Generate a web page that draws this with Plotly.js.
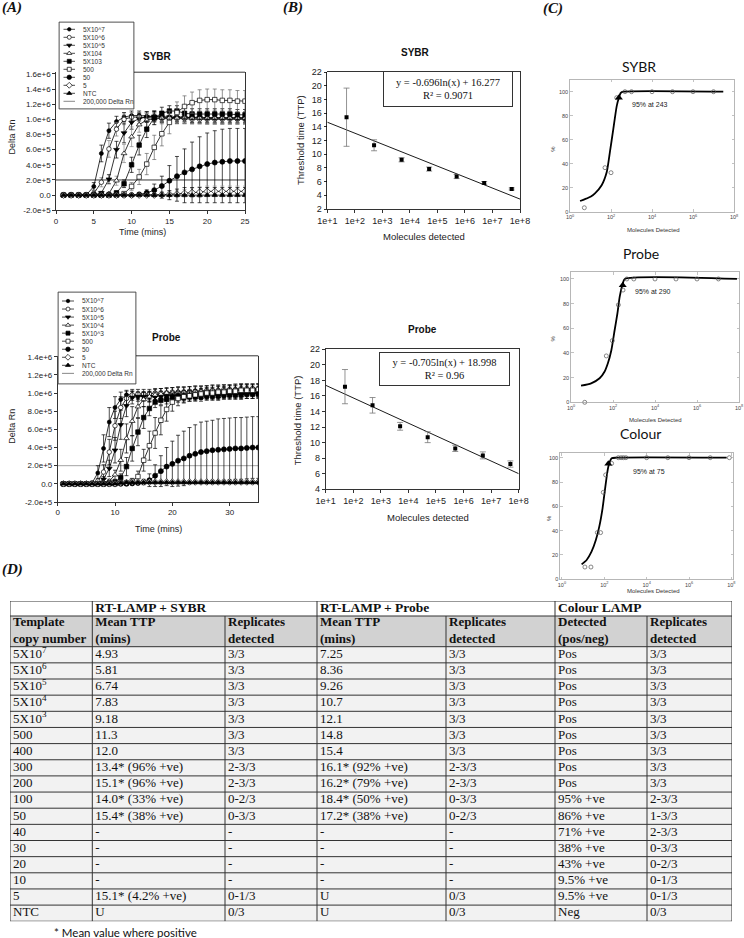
<!DOCTYPE html>
<html><head><meta charset="utf-8">
<script src="https://cdn.plot.ly/plotly-3.0.1.min.js"></script>
<style>html,body{margin:0;padding:0;background:#fff;}#chart{width:744px;height:938px;}</style>
</head><body><div id="chart"></div>
<script>
// ================= DATA =================
// Panel A – SYBR (Delta Rn in units of 1e5)
const sybrTime = [1,2,3,4,5,6,7,8,9,10,11,12,13,14,15,16,17,18,19,20,21,22,23,24,25];
const sybr5e7 = [0,0,0,0,1.15,5.5,8.5,9.7,10.3,10.5,10.5,10.4,10.4,10.3,10.3,10.3,10.3,10.2,10.2,10.2,10.2,10.2,10.2,10.2,10.2];
const sybr5e6 = [0,0,0,0,0.2,1.7,6.1,8.7,10.0,10.3,10.3,10.2,10.2,10.1,10.1,10.1,10.1,10.0,10.0,10.0,10.0,10.0,10.0,10.0,10.0];
const sybr5e5 = [0,0,0,0,0,0.3,2.1,6.0,8.2,9.6,10.1,10.3,10.4,10.3,10.3,10.2,10.2,10.2,10.2,10.1,10.1,10.1,10.1,10.1,10.1];
const sybr5e4 = [0,0,0,0,0,0,0.2,1.9,5.5,7.7,9.3,9.9,10.1,10.2,10.2,10.2,10.2,10.2,10.2,10.2,10.2,10.2,10.2,10.2,10.2];
const sybr5e3 = [0,0,0,0,0,0,0,0.3,1.5,4.0,6.6,8.7,10.2,10.8,11.1,11.1,10.8,10.7,10.7,10.7,10.7,10.7,10.7,10.6,10.6];
const sybr500 = [0,0,0,0,0,0,0,0,0.2,1.15,2.4,4.1,6.3,8.1,9.6,10.9,11.7,12.2,12.5,12.6,12.6,12.5,12.5,12.4,12.4];
const sybr50  = [0,0,0,0,0,0,0,0,0,0,0.1,0.3,0.66,1.2,1.9,2.5,3.0,3.4,3.8,4.1,4.3,4.4,4.5,4.5,4.5];
const sybr5   = [0,0,0,0,0,0,0,0,0,0,0,0,0,0.05,0.1,0.15,0.25,0.35,0.4,0.5,0.5,0.5,0.5,0.5,0.5];
const sybrNTC = [0,0,0,0,0,0,0,0,0,0,0,0,0,0,0,0,0,0,0,0,0,0,0,0,0];
const sybrErr5e7 = [0,0,0,0.2,0.5,1.1,1.0,0.7,0.6,0.6,0.6,0.6,0.6,0.6,0.6,0.6,0.6,0.6,0.6,0.6,0.6,0.6,0.6,0.6,0.6];
const sybrErr5e6 = [0,0,0,0,0.3,0.6,1.1,0.9,0.7,0.6,0.6,0.6,0.6,0.6,0.6,0.6,0.6,0.6,0.6,0.6,0.6,0.6,0.6,0.6,0.6];
const sybrErr5e5 = [0,0,0,0,0,0.2,0.6,1.1,1.3,0.9,0.7,0.7,0.7,0.7,0.7,0.7,0.7,0.7,0.7,0.7,0.7,0.7,0.7,0.7,0.7];
const sybrErr5e4 = [0,0,0,0,0,0,0.2,0.6,1.2,1.3,1.0,0.9,0.8,0.8,0.8,0.8,0.8,0.8,0.8,0.8,0.8,0.8,0.8,0.8,0.8];
const sybrErr5e3 = [0,0,0,0,0,0,0,0.2,0.5,1.0,1.3,1.1,0.9,0.8,0.7,0.7,0.7,0.7,0.7,0.7,0.7,0.7,0.7,0.7,0.7];
const sybrErr500 = [0,0,0,0,0,0,0,0,0.2,0.5,1.0,1.4,1.6,1.6,1.5,1.4,1.4,1.4,1.4,1.4,1.4,1.4,1.4,1.4,1.4];
const sybrErr50  = [0,0,0,0,0,0,0,0,0,0,0.2,0.4,0.8,1.3,2.0,2.6,3.1,3.6,3.9,4.1,4.2,4.3,4.3,4.3,4.3];
const sybrErr5   = [0,0,0,0,0,0,0,0,0,0,0,0,0.1,0.2,0.3,0.4,0.5,0.6,0.7,0.7,0.7,0.7,0.7,0.7,0.7];
const sybrErrNTC = [0,0,0,0,0,0,0,0,0,0,0,0,0.2,0.4,0.6,0.8,1.0,1.0,1.0,1.0,1.0,1.0,1.0,1.0,1.0];
const sybrThreshX = [0, 25];
const sybrThreshY = [2, 2];

// Panel A – Probe (Delta Rn in units of 1e5)
const probeTime = [1,2,3,4,5,6,7,8,9,10,11,12,13,14,15,16,17,18,19,20,21,22,23,24,25,26,27,28,29,30,31,32,33,34,35];
const probe5e7 = [0,0,0,0,0,0.1,1.2,3.9,6.8,8.4,9.3,9.8,9.8,9.7,9.7,9.7,9.7,9.7,9.7,9.7,9.7,9.7,9.8,9.8,9.8,9.8,9.8,9.8,9.9,9.9,9.9,9.9,10.0,10.0,10.0];
const probe5e6 = [0,0,0,0,0,0,0.3,1.3,3.5,6.4,8.4,9.4,9.8,9.9,9.9,9.9,10.0,10.0,10.0,10.1,10.1,10.1,10.2,10.2,10.2,10.3,10.3,10.3,10.4,10.4,10.4,10.5,10.5,10.5,10.5];
const probe5e5 = [0,0,0,0,0,0,0.05,0.5,1.7,3.7,6.5,8.6,9.5,9.6,9.6,9.6,9.6,9.7,9.7,9.7,9.7,9.7,9.8,9.8,9.8,9.8,9.8,9.8,9.9,9.9,9.9,9.9,9.9,9.9,10.0];
const probe5e4 = [0,0,0,0,0,0,0,0.1,0.3,1.0,2.6,5.0,6.9,8.5,9.3,9.6,9.8,9.9,10.0,10.0,10.1,10.1,10.1,10.2,10.2,10.2,10.3,10.3,10.3,10.3,10.4,10.4,10.4,10.4,10.4];
const probe5e3 = [0,0,0,0,0,0,0,0,0.1,0.2,0.7,1.9,3.9,5.7,7.3,8.3,9.0,9.2,9.3,9.4,9.5,9.5,9.6,9.6,9.6,9.7,9.7,9.7,9.8,9.8,9.8,9.8,9.9,9.9,9.9];
const probe500 = [0,0,0,0,0,0,0,0,0,0,0.1,0.1,0.3,0.8,2.6,4.2,5.6,7.0,8.2,9.0,9.4,9.6,9.7,9.8,9.9,10.0,10.0,10.1,10.1,10.2,10.2,10.3,10.3,10.3,10.4];
const probe50  = [0,0,0,0,0,0,0,0,0,0,0,0,0.05,0.1,0.2,0.4,0.9,1.4,1.9,2.2,2.55,2.8,3.1,3.3,3.5,3.6,3.7,3.75,3.8,3.85,3.9,3.9,3.95,4.0,4.0];
const probe5   = [0,0,0,0,0,0,0,0,0,0,0.1,0.15,0.2,0.2,0.2,0.2,0.2,0.2,0.2,0.2,0.2,0.2,0.2,0.2,0.2,0.2,0.2,0.2,0.2,0.2,0.2,0.2,0.2,0.2,0.2];
const probeNTC = [0,0,0,0,0,0,0,0,0,0,0.1,0.15,0.15,0.15,0.15,0.15,0.15,0.15,0.15,0.15,0.15,0.15,0.15,0.15,0.15,0.15,0.15,0.15,0.15,0.15,0.15,0.15,0.15,0.15,0.15];
const probeErr5e7 = [0,0,0,0,0,0.2,0.8,1.5,1.6,1.2,0.8,0.5,0.4,0.4,0.4,0.4,0.4,0.4,0.4,0.4,0.4,0.4,0.4,0.4,0.4,0.4,0.4,0.4,0.4,0.4,0.4,0.4,0.4,0.4,0.4];
const probeErr5e6 = [0,0,0,0,0,0,0.3,0.8,1.4,1.6,1.2,0.8,0.6,0.5,0.5,0.5,0.5,0.5,0.5,0.5,0.5,0.5,0.5,0.5,0.5,0.5,0.5,0.5,0.5,0.5,0.5,0.5,0.5,0.5,0.5];
const probeErr5e5 = [0,0,0,0,0,0,0,0.3,0.9,1.4,1.6,1.2,0.7,0.5,0.5,0.5,0.5,0.5,0.5,0.5,0.5,0.5,0.5,0.5,0.5,0.5,0.5,0.5,0.5,0.5,0.5,0.5,0.5,0.5,0.5];
const probeErr5e4 = [0,0,0,0,0,0,0,0,0.2,0.5,1.2,1.6,1.6,1.2,0.8,0.6,0.6,0.6,0.6,0.6,0.6,0.6,0.6,0.6,0.6,0.6,0.6,0.6,0.6,0.6,0.6,0.6,0.6,0.6,0.6];
const probeErr5e3 = [0,0,0,0,0,0,0,0,0,0.1,0.4,1.0,1.4,1.5,1.2,0.8,0.6,0.5,0.5,0.5,0.5,0.5,0.5,0.5,0.5,0.5,0.5,0.5,0.5,0.5,0.5,0.5,0.5,0.5,0.5];
const probeErr500 = [0,0,0,0,0,0,0,0,0,0,0.1,0.1,0.3,0.6,1.2,1.6,1.7,1.6,1.3,1.0,0.8,0.7,0.6,0.6,0.6,0.6,0.6,0.6,0.6,0.6,0.6,0.6,0.6,0.6,0.6];
const probeErr50  = [0,0,0,0,0,0,0,0,0,0,0,0,0.05,0.1,0.3,0.7,1.2,1.7,2.1,2.5,2.8,3.0,3.1,3.2,3.3,3.3,3.3,3.4,3.4,3.4,3.4,3.4,3.4,3.4,3.4];
const probeErr5   = [0,0,0,0,0,0,0,0,0,0,0.1,0.1,0.1,0.1,0.1,0.1,0.1,0.1,0.1,0.1,0.1,0.1,0.1,0.1,0.1,0.1,0.1,0.1,0.1,0.1,0.1,0.1,0.1,0.1,0.1];
const probeErrNTC = [0,0,0,0,0,0,0,0,0,0,0.1,0.1,0.1,0.1,0.1,0.1,0.1,0.1,0.1,0.1,0.1,0.1,0.1,0.1,0.1,0.1,0.1,0.1,0.1,0.1,0.1,0.1,0.1,0.1,0.1];
const probeThreshX = [0, 35];
const probeThreshY = [2, 2];

const sybrLegendNames  = ['5X10^7','5X10^6','5X10^5','5X104','5X103','500','50','5','NTC','200,000 Delta Rn'];
const probeLegendNames = ['5X10^7','5X10^6','5X10^5','5X10^4','5X10^3','500','50','5','NTC','200,000 Delta Rn'];
const sybrYTickVals  = [-2,0,2,4,6,8,10,12,14,16];
const sybrYTickText  = ['-2.0e+5','0.0','2.0e+5','4.0e+5','6.0e+5','8.0e+5','1.0e+6','1.2e+6','1.4e+6','1.6e+6'];
const probeYTickVals = [-2,0,2,4,6,8,10,12,14];
const probeYTickText = ['-2.0e+5','0.0','2.0e+5','4.0e+5','6.0e+5','8.0e+5','1.0e+6','1.2e+6','1.4e+6'];

// Panel B
const copies = [50, 500, 5000, 50000, 500000, 5000000, 50000000];
const sybrTTP = [15.4, 11.3, 9.18, 7.83, 6.74, 5.81, 4.93];
const sybrTTPErr = [4.25, 0.8, 0.3, 0.3, 0.3, 0.2, 0.15];
const probeTTP = [17.2, 14.8, 12.1, 10.7, 9.26, 8.36, 7.25];
const probeTTPErr = [2.2, 1.0, 0.5, 0.7, 0.4, 0.45, 0.4];
const fitX = [10, 100000000];
const sybrFitY = [14.67, 3.45];
const probeFitY = [17.37, 6.01];
const bTickVals = [10,100,1000,10000,100000,1000000,10000000,100000000];
const bTickText = ['1e+1','1e+2','1e+3','1e+4','1e+5','1e+6','1e+7','1e+8'];
const sybrEq = 'y = -0.696ln(x) + 16.277<br>R² = 0.9071';
const probeEq = 'y = -0.705ln(x) + 18.998<br>R² = 0.96';

// Panel C
const cSybrX = [5, 51, 100, 190, 480, 1000, 10000, 100000, 1000000, 10000000];
const cSybrY = [3.3, 36.7, 32.5, 95, 100, 100, 100, 100, 100, 100];
const cSybrFitX = [3.1, 5.4, 10, 16.5, 35, 62, 89, 130, 190, 243, 300, 400, 30000000];
const cSybrFitY = [8.9, 10.5, 12.5, 15.3, 22, 33, 50, 69, 88, 95, 99, 100, 100];
const cSybr95 = [243, 95];
const cProbeX = [4.5, 48, 93, 180, 300, 455, 980, 10000, 100000, 1000000, 10500000];
const cProbeY = [0, 37.6, 50, 79, 91, 100, 100, 100, 100, 100, 100];
const cProbeFitX = [3.0, 9.1, 23, 40, 57, 83, 120, 162, 209, 290, 363, 80000000];
const cProbeFitY = [13.5, 15.4, 19.5, 25, 31.6, 42, 58.6, 72, 85.7, 96, 100, 100];
const cProbe95 = [290, 95];
const cColourX = [12.2, 23.5, 47, 67, 90, 116, 222, 460, 620, 800, 1050, 10000, 100000, 1000000, 10000000, 80000000];
const cColourY = [10.1, 10.1, 38.4, 38.4, 71.5, 85.8, 95.3, 100, 100, 100, 100, 100, 100, 100, 100, 100];
const cColourFitX = [8.5, 14.7, 25, 40, 58, 83, 112, 155, 224, 380, 60000000];
const cColourFitY = [12.3, 15.9, 22.7, 32.3, 43.3, 58.4, 76, 92.6, 99.5, 100, 100];
const cColour95 = [155, 95];
const cTickVals = [1, 100, 10000, 1000000, 100000000];
const cTickText = ['10<sup>0</sup>','10<sup>2</sup>','10<sup>4</sup>','10<sup>6</sup>','10<sup>8</sup>'];
const cYTickVals = [0,20,40,60,80,100];

// Panel D – table
const tableGroups = ['RT-LAMP + SYBR', 'RT-LAMP + Probe', 'Colour LAMP'];
const tableHeaders = ['Template<br>copy number','Mean TTP<br>(mins)','Replicates<br>detected','Mean TTP<br>(mins)','Replicates<br>detected','Detected<br>(pos/neg)','Replicates<br>detected'];
const colCopy = ['5X10<sup>7</sup>','5X10<sup>6</sup>','5X10<sup>5</sup>','5X10<sup>4</sup>','5X10<sup>3</sup>','500','400','300','200','100','50','40','30','20','10','5','NTC'];
const colSybrMean = ['4.93','5.81','6.74','7.83','9.18','11.3','12.0','13.4* (96% +ve)','15.1* (96% +ve)','14.0* (33% +ve)','15.4* (38% +ve)','-','-','-','-','15.1* (4.2% +ve)','U'];
const colSybrRep = ['3/3','3/3','3/3','3/3','3/3','3/3','3/3','2-3/3','2-3/3','0-2/3','0-3/3','-','-','-','-','0-1/3','0/3'];
const colProbeMean = ['7.25','8.36','9.26','10.7','12.1','14.8','15.4','16.1* (92% +ve)','16.2* (79% +ve)','18.4* (50% +ve)','17.2* (38% +ve)','-','-','-','-','U','U'];
const colProbeRep = ['3/3','3/3','3/3','3/3','3/3','3/3','3/3','2-3/3','2-3/3','0-3/3','0-2/3','-','-','-','-','0/3','0/3'];
const colColourDet = ['Pos','Pos','Pos','Pos','Pos','Pos','Pos','Pos','Pos','95% +ve','86% +ve','71% +ve','38% +ve','43% +ve','9.5% +ve','9.5% +ve','Neg'];
const colColourRep = ['3/3','3/3','3/3','3/3','3/3','3/3','3/3','3/3','3/3','2-3/3','1-3/3','2-3/3','0-3/3','0-2/3','0-1/3','0-1/3','0/3'];
const footnote = '* Mean value where positive';

// ================= STYLE / LAYOUT =================
const W = 744, H = 938;
const PX = v => v / W;
const PY = v => 1 - v / H;
const SANS = 'Liberation Sans, Arial, sans-serif';
const SERIF = 'Liberation Serif, Times New Roman, serif';
const CAL = 'Lato, Carlito, Open Sans, sans-serif';

const markerStyles = [
  {symbol:'circle', fill:'#000', size:4},
  {symbol:'circle', fill:'#fff', size:4.5},
  {symbol:'triangle-down', fill:'#000', size:5},
  {symbol:'triangle-up', fill:'#fff', size:5},
  {symbol:'square', fill:'#000', size:4.5},
  {symbol:'square', fill:'#fff', size:4.5},
  {symbol:'circle', fill:'#000', size:5},
  {symbol:'diamond', fill:'#fff', size:5},
  {symbol:'triangle-up', fill:'#000', size:5}
];
const errColorsSybr = ['#000','#777','#000','#888','#000','#666','#000','#999','#000'];
const errColorsProbe = ['#000','#000','#000','#000','#000','#000','#000','#999','#000'];

const traces = [];
function addCurves(xs, ys, errs, colors, xa, ya) {
  ys.forEach((y, i) => {
    const st = markerStyles[i];
    traces.push({
      type:'scatter', mode:'lines+markers', x:xs, y:y, xaxis:xa, yaxis:ya,
      line:{color:'#000', width:0.8},
      marker:{symbol:st.symbol, size:st.size, color:st.fill, line:{color:'#000', width:0.7}},
      error_y:{type:'data', array:errs[i], visible:true, color:colors[i], thickness:0.7, width:2},
      hoverinfo:'skip', showlegend:false
    });
  });
}
traces.push({type:'scatter', mode:'lines', x:sybrThreshX, y:sybrThreshY, xaxis:'x', yaxis:'y', line:{color:'#000', width:0.8}, hoverinfo:'skip', showlegend:false});
traces.push({type:'scatter', mode:'lines', x:probeThreshX, y:probeThreshY, xaxis:'x2', yaxis:'y2', line:{color:'#999', width:0.9}, hoverinfo:'skip', showlegend:false});
addCurves(sybrTime,
  [sybr5e7, sybr5e6, sybr5e5, sybr5e4, sybr5e3, sybr500, sybr50, sybr5, sybrNTC],
  [sybrErr5e7, sybrErr5e6, sybrErr5e5, sybrErr5e4, sybrErr5e3, sybrErr500, sybrErr50, sybrErr5, sybrErrNTC],
  errColorsSybr, 'x', 'y');
addCurves(probeTime,
  [probe5e7, probe5e6, probe5e5, probe5e4, probe5e3, probe500, probe50, probe5, probeNTC],
  [probeErr5e7, probeErr5e6, probeErr5e5, probeErr5e4, probeErr5e3, probeErr500, probeErr50, probeErr5, probeErrNTC],
  errColorsProbe, 'x2', 'y2');

// Panel B
function addB(y, err, fitY, xa, ya) {
  traces.push({type:'scatter', mode:'lines', x:fitX, y:fitY, xaxis:xa, yaxis:ya, line:{color:'#000', width:0.9}, hoverinfo:'skip', showlegend:false});
  traces.push({type:'scatter', mode:'markers', x:copies, y:y, xaxis:xa, yaxis:ya,
    marker:{symbol:'square', size:4, color:'#000'},
    error_y:{type:'data', array:err, visible:true, color:'#777', thickness:0.8, width:3},
    hoverinfo:'skip', showlegend:false});
}
addB(sybrTTP, sybrTTPErr, sybrFitY, 'x3', 'y3');
addB(probeTTP, probeTTPErr, probeFitY, 'x4', 'y4');

// Panel C
function addC(px, py, fx, fy, p95, xa, ya) {
  traces.push({type:'scatter', mode:'lines', x:fx, y:fy, xaxis:xa, yaxis:ya, line:{color:'#000', width:1.8, shape:'spline', smoothing:0.6}, hoverinfo:'skip', showlegend:false, cliponaxis:false});
  traces.push({type:'scatter', mode:'markers', x:px, y:py, xaxis:xa, yaxis:ya, marker:{symbol:'circle-open', size:4, color:'#555', line:{width:0.7}}, hoverinfo:'skip', showlegend:false, cliponaxis:false});
  traces.push({type:'scatter', mode:'markers', x:[p95[0]], y:[p95[1]], xaxis:xa, yaxis:ya, marker:{symbol:'triangle-up', size:7, color:'#000'}, hoverinfo:'skip', showlegend:false, cliponaxis:false});
}
addC(cSybrX, cSybrY, cSybrFitX, cSybrFitY, cSybr95, 'x5', 'y5');
addC(cProbeX, cProbeY, cProbeFitX, cProbeFitY, cProbe95, 'x6', 'y6');
addC(cColourX, cColourY, cColourFitX, cColourFitY, cColour95, 'x7', 'y7');

// Legend boxes (helper axes in pixel units)
const shapes = [];
const annotations = [];
function addLegend(names, box, rows, xa, ya) {
  traces.push({type:'scatter', mode:'lines', x:[box.x0,box.x1,box.x1,box.x0,box.x0], y:[box.y0,box.y0,box.y1,box.y1,box.y0],
    fill:'toself', fillcolor:'#fff', line:{color:'#555', width:0.8}, xaxis:xa, yaxis:ya, hoverinfo:'skip', showlegend:false, cliponaxis:false});
  shapes.push({type:'rect', xref:'paper', yref:'paper', x0:PX(box.x0), x1:PX(box.x1), y0:PY(box.y1), y1:PY(box.y0),
    line:{color:'#555', width:0.8}, fillcolor:'rgba(0,0,0,0)', layer:'above'});
  names.forEach((nm, i) => {
    const yy = rows.first + rows.step * i;
    traces.push({type:'scatter', mode:'lines', x:[rows.lx0, rows.lx1], y:[yy, yy], xaxis:xa, yaxis:ya,
      line:{color: i === 9 ? '#555' : '#000', width:0.7}, hoverinfo:'skip', showlegend:false, cliponaxis:false});
    if (i < 9) {
      const st = markerStyles[i];
      traces.push({type:'scatter', mode:'markers', x:[(rows.lx0 + rows.lx1) / 2], y:[yy], xaxis:xa, yaxis:ya,
        marker:{symbol:st.symbol, size:st.size - 0.5, color:st.fill, line:{color:'#000', width:0.7}}, hoverinfo:'skip', showlegend:false, cliponaxis:false});
    }
    annotations.push({xref:'paper', yref:'paper', x:PX(rows.tx), y:PY(yy), text:nm, showarrow:false, xanchor:'left', yanchor:'middle',
      font:{family:SANS, size:6.5, color:'#333'}});
  });
}
addLegend(sybrLegendNames, {x0:59, x1:134, y0:22, y1:109}, {first:29.3, step:8.0, lx0:63.5, lx1:75, tx:80.5}, 'x8', 'y8');
addLegend(probeLegendNames, {x0:58, x1:136, y0:292, y1:384}, {first:301, step:8.04, lx0:62, lx1:74, tx:79.5}, 'x9', 'y9');

// top frame lines of the two panel-A plots, starting right of the legend boxes
shapes.push({type:'line', xref:'paper', yref:'paper', x0:PX(134), x1:PX(245), y0:PY(72.2), y1:PY(72.2), line:{color:'#000', width:0.8}});
shapes.push({type:'line', xref:'paper', yref:'paper', x0:PX(136), x1:PX(258.3), y0:PY(355.8), y1:PY(355.8), line:{color:'#000', width:0.8}});

// Table via heatmap (fills), line trace (borders) and text traces
const colW = [82.3, 132.7, 92, 129, 109, 92, 85];
const rowH = [15, 30.7, 16.15,16.15,16.15,16.15,16.15,16.15,16.15,16.15,16.15,16.15,16.15,16.15,16.15,16.15,16.15,16.15,16.15];
const colEdges = [10]; colW.forEach(w => colEdges.push(colEdges[colEdges.length-1] + w));
const rowEdges = [601]; rowH.forEach(h => rowEdges.push(rowEdges[rowEdges.length-1] + h));
const nR = rowH.length, nC = colW.length;
const zFill = [];
for (let r = 0; r < nR; r++) { const row = []; for (let c = 0; c < nC; c++) row.push(r === 0 ? 0 : (r === 1 ? 1 : 2)); zFill.push(row); }
traces.push({type:'heatmap', x:colEdges, y:rowEdges, z:zFill, zmin:0, zmax:2,
  colorscale:[[0,'#ffffff'],[0.5,'#d2d2d2'],[1,'#f2f2f2']], showscale:false, hoverinfo:'skip', xaxis:'x10', yaxis:'y10'});
const bx = [], by = [];
rowEdges.forEach(y => { bx.push(colEdges[0], colEdges[nC], null); by.push(y, y, null); });
colEdges.forEach((x, i) => { const top = (i === 2 || i === 4 || i === 6) ? rowEdges[1] : rowEdges[0]; bx.push(x, x, null); by.push(top, rowEdges[nR], null); });
traces.push({type:'scatter', mode:'lines', x:bx, y:by, xaxis:'x10', yaxis:'y10', line:{color:'#333', width:1}, hoverinfo:'skip', showlegend:false, cliponaxis:false});
const rc = r => (rowEdges[r] + rowEdges[r+1]) / 2;
const PAD = 3;
traces.push({type:'scatter', mode:'text', xaxis:'x10', yaxis:'y10', cliponaxis:false, hoverinfo:'skip', showlegend:false,
  x:[colEdges[1]+PAD, colEdges[3]+PAD, colEdges[5]+PAD], y:[rc(0), rc(0), rc(0)],
  text: tableGroups.map(t => '<b>' + t + '</b>'), textposition:'middle right',
  textfont:{family:SERIF, size:13.5, color:'#111'}});
traces.push({type:'scatter', mode:'text', xaxis:'x10', yaxis:'y10', cliponaxis:false, hoverinfo:'skip', showlegend:false,
  x: colEdges.slice(0, nC).map(x => x + PAD), y: colEdges.slice(0, nC).map(() => rc(1)),
  text: tableHeaders.map(t => '<b>' + t + '</b>'), textposition:'middle right',
  textfont:{family:SERIF, size:13, color:'#111'}});
const tableCols = [colCopy, colSybrMean, colSybrRep, colProbeMean, colProbeRep, colColourDet, colColourRep];
const tx = [], ty = [], tt = [];
tableCols.forEach((col, c) => col.forEach((v, r) => { tx.push(colEdges[c] + PAD); ty.push(rc(r + 2)); tt.push(v); }));
traces.push({type:'scatter', mode:'text', xaxis:'x10', yaxis:'y10', cliponaxis:false, hoverinfo:'skip', showlegend:false,
  x:tx, y:ty, text:tt, textposition:'middle right', textfont:{family:SERIF, size:13, color:'#111'}});

// ---------- axes ----------
const tickA = {family:SANS, size:8, color:'#222'};
function axA(dom, extra) {
  return Object.assign({domain:dom, showline:true, mirror:true, linecolor:'#000', linewidth:0.8, ticks:'outside', ticklen:3,
    tickwidth:0.8, tickcolor:'#000', showgrid:false, zeroline:false, tickfont:tickA, fixedrange:true}, extra);
}
const tickC = {family:SANS, size:5.5, color:'#444'};
function axC(dom, extra) {
  return Object.assign({domain:dom, showline:true, mirror:'ticks', linecolor:'#999', linewidth:0.7, ticks:'inside', ticklen:2.5,
    tickwidth:0.6, tickcolor:'#999', showgrid:false, zeroline:false, tickfont:tickC, fixedrange:true}, extra);
}
const hidden = dom => ({domain:dom, visible:false, fixedrange:true});

const layout = {
  width:W, height:H, margin:{l:0, r:0, t:0, b:0},
  paper_bgcolor:'#fff', plot_bgcolor:'rgba(0,0,0,0)', showlegend:false,
  font:{family:SANS, color:'#222'},
  xaxis:  axA([PX(56), PX(245)], {range:[0,25], tickvals:[0,5,10,15,20,25], anchor:'y', mirror:false}),
  yaxis:  axA([PY(210.3), PY(72.2)], {range:[-2,16.22], tickvals:sybrYTickVals, ticktext:sybrYTickText, anchor:'x'}),
  xaxis2: axA([PX(57.7), PX(258.3)], {range:[0,35], tickvals:[0,10,20,30], anchor:'y2', mirror:false}),
  yaxis2: axA([PY(502), PY(355.8)], {range:[-2,14.1], tickvals:probeYTickVals, ticktext:probeYTickText, anchor:'x2'}),
  xaxis3: axA([PX(327.3), PX(520)], {type:'log', range:[1,8], tickvals:bTickVals, ticktext:bTickText, anchor:'y3', tickfont:{family:SANS, size:9, color:'#222'}}),
  yaxis3: axA([PY(209), PY(72)], {range:[2,22], dtick:2, tick0:2, anchor:'x3', tickfont:{family:SANS, size:9, color:'#222'}}),
  xaxis4: axA([PX(325.7), PX(518.7)], {type:'log', range:[1,8], tickvals:bTickVals, ticktext:bTickText, anchor:'y4', tickfont:{family:SANS, size:9, color:'#222'}}),
  yaxis4: axA([PY(489.3), PY(349.3)], {range:[4,22], dtick:2, tick0:4, anchor:'x4', tickfont:{family:SANS, size:9, color:'#222'}}),
  xaxis5: axC([PX(570), PX(734)], {type:'log', range:[0,8], tickvals:cTickVals, ticktext:cTickText, anchor:'y5'}),
  yaxis5: axC([PY(211.7), PY(79.7)], {range:[0,110], tickvals:cYTickVals, anchor:'x5'}),
  xaxis6: axC([PX(571), PX(739)], {type:'log', range:[0,8], tickvals:cTickVals, ticktext:cTickText, anchor:'y6'}),
  yaxis6: axC([PY(402.3), PY(272.3)], {range:[0,105.4], tickvals:cYTickVals, anchor:'x6'}),
  xaxis7: axC([PX(560), PX(733.3)], {type:'log', range:[-0.09,8.09], tickvals:cTickVals, ticktext:cTickText, anchor:'y7'}),
  yaxis7: axC([PY(579.3), PY(453.3)], {range:[0,103.6], tickvals:cYTickVals, anchor:'x7'}),
  xaxis8: Object.assign(hidden([PX(59), PX(134)]), {range:[59,134], anchor:'y8'}),
  yaxis8: Object.assign(hidden([PY(109), PY(22)]), {range:[109,22], anchor:'x8'}),
  xaxis9: Object.assign(hidden([PX(58), PX(136)]), {range:[58,136], anchor:'y9'}),
  yaxis9: Object.assign(hidden([PY(384), PY(292)]), {range:[384,292], anchor:'x9'}),
  xaxis10: Object.assign(hidden([PX(colEdges[0]), PX(colEdges[nC])]), {range:[colEdges[0], colEdges[nC]], anchor:'y10'}),
  yaxis10: Object.assign(hidden([PY(rowEdges[nR]), PY(rowEdges[0])]), {range:[rowEdges[nR], rowEdges[0]], anchor:'x10'}),
  annotations: annotations,
  shapes: shapes
};

function txt(x, y, text, font, extra) {
  annotations.push(Object.assign({xref:'paper', yref:'paper', x:PX(x), y:PY(y), text:text, showarrow:false,
    xanchor:'center', yanchor:'middle', font:font}, extra || {}));
}
const labF = {family:SERIF, size:15, color:'#111'};
txt(12, 8, '<b><i>(A)</i></b>', labF);
txt(293, 7.5, '<b><i>(B)</i></b>', labF);
txt(553, 8.5, '<b><i>(C)</i></b>', labF);
txt(12, 569, '<b><i>(D)</i></b>', labF);
const titF = {family:SANS, size:10, color:'#111'};
txt(157.3, 56.7, '<b>SYBR</b>', titF);
txt(166, 337.3, '<b>Probe</b>', titF);
txt(415.7, 52.3, '<b>SYBR</b>', titF);
txt(422, 329.3, '<b>Probe</b>', titF);
const axF = {family:SANS, size:9, color:'#222'};
txt(11.7, 136.7, 'Delta Rn', axF, {textangle:-90});
txt(142, 232, 'Time (mins)', axF);
txt(11.7, 426, 'Delta Rn', axF, {textangle:-90});
txt(158, 529, 'Time (mins)', axF);
const axBF = {family:SANS, size:9.5, color:'#222'};
txt(300, 140, 'Threshold time (TTP)', axBF, {textangle:-90});
txt(298.3, 420, 'Threshold time (TTP)', axBF, {textangle:-90});
txt(424, 236, 'Molecules detected', axBF);
txt(427.7, 517.3, 'Molecules detected', axBF);
const eqF = {family:SERIF, size:10.5, color:'#111'};
txt(447.7, 88.9, sybrEq, eqF, {width:126, height:32, bordercolor:'#333', borderwidth:1, borderpad:1, bgcolor:'#fff', align:'center'});
txt(444.5, 369, probeEq, eqF, {width:127, height:30, bordercolor:'#333', borderwidth:1, borderpad:1, bgcolor:'#fff', align:'center'});
const cTitF = {family:CAL, size:14, color:'#111'};
txt(639, 67, 'SYBR', cTitF);
txt(640.7, 253.3, 'Probe', cTitF);
txt(640.7, 433.3, 'Colour', cTitF);
const cAxF = {family:SANS, size:6, color:'#333'};
txt(552.7, 149, '%', cAxF, {textangle:-90});
txt(553.3, 338.3, '%', cAxF, {textangle:-90});
txt(549, 518, '%', cAxF, {textangle:-90});
txt(653, 229.8, 'Molecules Detected', cAxF);
txt(655, 420, 'Molecules Detected', cAxF);
txt(653.3, 590.5, 'Molecules Detected', cAxF);
const c95F = {family:SANS, size:7, color:'#222'};
txt(630, 104.3, '95% at 243', c95F, {xanchor:'left'});
txt(632.7, 291.7, '95% at 290', c95F, {xanchor:'left'});
txt(631, 471.7, '95% at 75', c95F, {xanchor:'left'});
txt(51.7, 932.7, footnote, {family:CAL, size:11.5, color:'#111'}, {xanchor:'left'});

Plotly.newPlot('chart', traces, layout, {staticPlot:true, displayModeBar:false});
</script>
</body></html>
